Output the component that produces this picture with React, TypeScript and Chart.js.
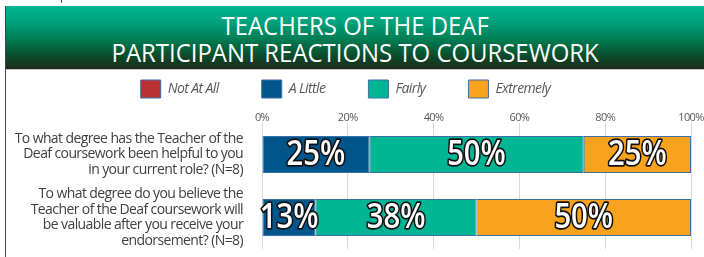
import React, { useEffect, useRef } from "react";
import { Chart, registerables } from "chart.js";

Chart.register(...registerables);

const TITLE_LINES = ["TEACHERS OF THE DEAF", "PARTICIPANT REACTIONS TO COURSEWORK"];
const QUESTIONS = [
  ["To what degree has the Teacher of the", "Deaf coursework been helpful to you", "in your current role? (N=8)"],
  ["To what degree do you believe the", "Teacher of the Deaf coursework will", "be valuable after you receive your", "endorsement? (N=8)"],
];
const SERIES = ["Not At All", "A Little", "Fairly", "Extremely"];
const NOT_AT_ALL = [0, 0];
const A_LITTLE = [25, 12.5];
const FAIRLY = [50, 37.5];
const EXTREMELY = [25, 50];
const COLORS = ["#b83232", "#00568a", "#00b594", "#f8a21e"];
const X_TICKS = [0, 20, 40, 60, 80, 100];

const FONT = "'Open Sans', 'Noto Sans', sans-serif";
const SPACING = "-0.6px";

const spacingPlugin = {
  id: "spacing",
  beforeUpdate(chart: any) {
    chart.ctx.letterSpacing = SPACING;
  },
  beforeLayout(chart: any) {
    chart.ctx.letterSpacing = SPACING;
  },
  beforeDraw(chart: any) {
    chart.ctx.letterSpacing = SPACING;
  },
};

const labelPlugin = {
  id: "barLabels",
  afterDatasetsDraw(chart: any) {
    const ctx = chart.ctx;
    ctx.save();
    ctx.letterSpacing = "0px";
    ctx.font = `600 34px ${FONT}`;
    ctx.textAlign = "center";
    ctx.textBaseline = "middle";
    ctx.lineJoin = "round";
    chart.data.datasets.forEach((ds: any, di: number) => {
      const meta = chart.getDatasetMeta(di);
      meta.data.forEach((el: any, i: number) => {
        const v = ds.data[i];
        if (!v) return;
        const p = el.getCenterPoint();
        const txt = Math.round(v) + "%";
        ctx.save();
        ctx.translate(p.x, p.y + 1);
        ctx.scale(0.86, 1);
        ctx.lineWidth = 3.5;
        ctx.strokeStyle = "#111";
        ctx.strokeText(txt, 0, 0);
        ctx.fillStyle = "#fff";
        ctx.fillText(txt, 0, 0);
        ctx.restore();
      });
    });
    ctx.restore();
  },
};

function ChartCanvas() {
  const ref = useRef<HTMLCanvasElement>(null);
  useEffect(() => {
    const data = [NOT_AT_ALL, A_LITTLE, FAIRLY, EXTREMELY];
    const chart = new Chart(ref.current as HTMLCanvasElement, {
      type: "bar",
      data: {
        labels: QUESTIONS,
        datasets: SERIES.map((s, i) => ({
          label: s,
          data: data[i],
          backgroundColor: COLORS[i],
          borderColor: "#3d6fa8",
          borderWidth: 1,
          borderSkipped: false,
          barPercentage: 0.59,
          categoryPercentage: 1,
        })),
      },
      options: {
        indexAxis: "y",
        responsive: false,
        animation: false,
        layout: { padding: { left: 0, right: 13, top: 0, bottom: 8 } },
        plugins: {
          tooltip: { enabled: false },
          title: { display: false },
          legend: {
            display: true,
            position: "top",
            maxHeight: 68,
            labels: {
              boxWidth: 20,
              boxHeight: 18,
              padding: 43,
              color: "#595959",
              font: { family: FONT, size: 14, style: "italic" },
            },
          },
        },
        scales: {
          x: {
            position: "top",
            stacked: true,
            min: 0,
            max: 100,
            afterBuildTicks(scale: any) {
              scale.ticks = X_TICKS.map((v) => ({ value: v }));
            },
            afterFit(scale: any) {
              scale.height = 18;
            },
            ticks: {
              callback: (v: any) => v + "%",
              color: "#595959",
              font: { family: FONT, size: 11 },
              padding: -1,
            },
            grid: { color: "#d9d9d9", drawTicks: false },
            border: { display: false },
          },
          y: {
            stacked: true,
            afterFit(scale: any) {
              scale.width = 262;
              scale.paddingTop = 0;
              scale.paddingBottom = 0;
            },
            ticks: {
              autoSkip: false,
              color: "#404040",
              font: { family: FONT, size: 14, lineHeight: 1.12 },
              padding: 11,
            },
            grid: { display: false },
            border: { display: false },
          },
        },
      },
      plugins: [spacingPlugin, labelPlugin],
    } as any);
    return () => chart.destroy();
  }, []);
  return <canvas ref={ref} width={704} height={220} style={{ display: "block" }} />;
}

export default function App() {
  useEffect(() => {
    document.body.style.margin = "0";
  }, []);
  return (
    <div style={{ position: "relative", width: 704, height: 257, overflow: "hidden", background: "#fff" }}>
      <div style={{ position: "absolute", left: 0, top: 37, zIndex: 0 }}>
        <ChartCanvas />
      </div>
      <div style={{ position: "absolute", left: 61, top: 0, width: 1, height: 3, background: "#555", zIndex: 1 }} />
      <div style={{ position: "absolute", left: 5, top: 6, width: 1, height: 251, background: "#444", zIndex: 1 }} />
      <div
        style={{
          position: "absolute",
          left: 6,
          top: 6,
          width: 698,
          height: 64,
          zIndex: 1,
          background: "linear-gradient(to bottom, #00b592 0%, #00a27c 25%, #007a50 55%, #0b4a2a 80%, #1d2a19 100%)",
          borderBottom: "1px solid #c8c8c8",
          boxSizing: "border-box",
          paddingTop: 6,
          color: "#fff",
          fontFamily: FONT,
          fontSize: 26,
          lineHeight: "27px",
          textAlign: "center",
        }}
      >
        {TITLE_LINES.map((t) => (
          <div key={t} style={{ transform: "scaleX(0.92)", transformOrigin: "351px 0", whiteSpace: "nowrap" }}>
            {t}
          </div>
        ))}
      </div>
    </div>
  );
}
